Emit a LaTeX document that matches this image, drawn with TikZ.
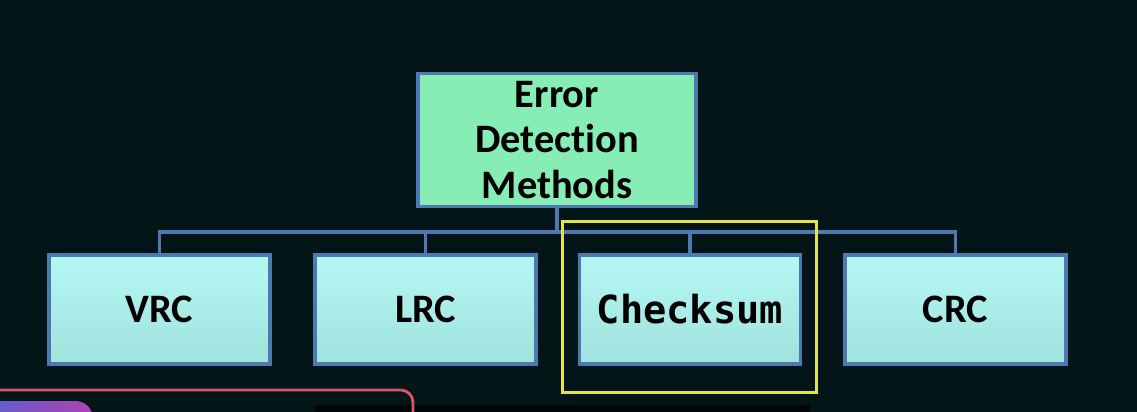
\documentclass[tikz,border=0pt]{standalone}
\usepackage{fontspec}
\setmainfont{Carlito}[Ligatures=NoCommon]
\newfontfamily\monobold{DejaVu Sans Mono}
\usepackage{tikz}
\usetikzlibrary{positioning}

\definecolor{bgdark}{RGB}{3,21,23}
\definecolor{boxedge}{RGB}{76,121,176}
\definecolor{rootfill}{RGB}{134,238,180}
\definecolor{leaftop}{RGB}{180,248,244}
\definecolor{leafbot}{RGB}{160,226,220}
\definecolor{hiyellow}{RGB}{226,228,78}
\definecolor{chipred}{RGB}{217,86,106}
\definecolor{chipleft}{RGB}{88,96,210}
\definecolor{chipright}{RGB}{176,66,178}

\begin{document}
\begin{tikzpicture}[x=0.02cm, y=-0.02cm,
    rootbox/.style={draw=boxedge, line width=2.2pt, fill=rootfill, minimum width=5.56cm, minimum height=2.66cm, align=center, font=\fontsize{23}{26}\selectfont\bfseries},
    leafbox/.style={draw=boxedge, line width=2.2pt, top color=leaftop, bottom color=leafbot, minimum width=4.42cm, minimum height=2.18cm, font=\fontsize{23}{27}\selectfont\bfseries},
    link/.style={draw=boxedge, line width=2.2pt}]
      \useasboundingbox (0,0) rectangle (1137,412);
      \clip (0,0) rectangle (1137,412);
      \fill[bgdark] (0,0) rectangle (1137,412);
      \node[rootbox] (root) at (557,140) {Error\\Detection\\Methods};
      \node[leafbox] (vrc) at (159.5,309.5) {VRC};
      \node[leafbox] (lrc) at (425.5,309.5) {LRC};
      \node[leafbox, font=\fontsize{22}{26}\selectfont\monobold\bfseries] (chk) at (690,309.5) {Checksum};
      \node[leafbox] (crc) at (955.5,309.5) {CRC};
      \coordinate (bus) at (557,232);
      \draw[link] (root.south) -- (bus);
      \foreach \leaf in {vrc,lrc,chk,crc}
        \draw[link] (bus) -| (\leaf.north);
      % highlight round the checksum box
      \node[draw=hiyellow, line width=1.7pt, minimum width=5.1cm, minimum height=3.44cm] (mark) at (689.5,307) {};
      % overlay at the bottom edge
      \fill[black!70!bgdark] (315,405) rectangle (810,412);
      \draw[chipred, line width=1.6pt, rounded corners=7pt] (-5,390) -- (413,390) -- (413,420);
      \shade[left color=chipleft, right color=chipright, rounded corners=10pt] (-20,401) rectangle (93,440);
\end{tikzpicture}
\end{document}
